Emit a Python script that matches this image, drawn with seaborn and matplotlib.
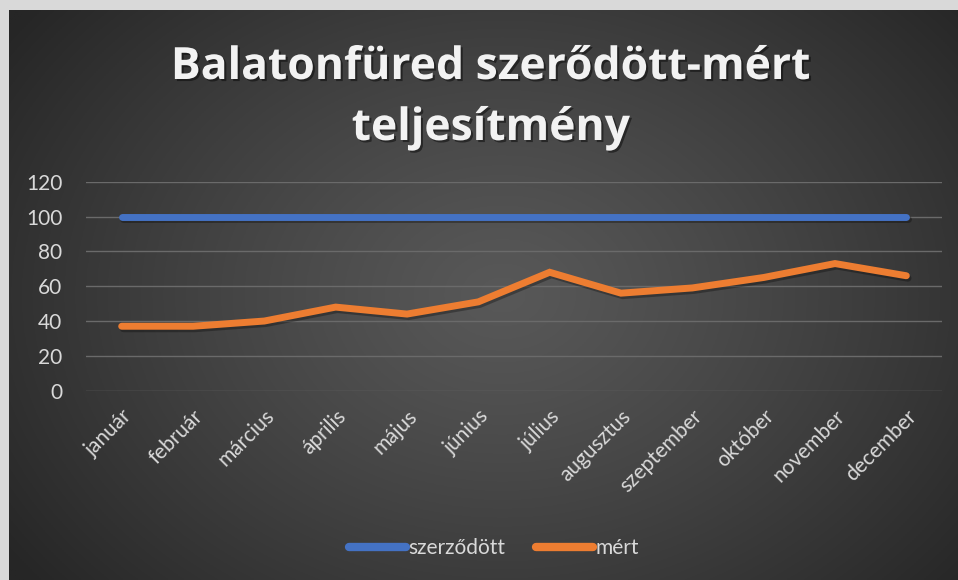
import numpy as np
import pandas as pd
import matplotlib
matplotlib.use("Agg")
import matplotlib.pyplot as plt
import matplotlib.patheffects as pe
from matplotlib.lines import Line2D
import seaborn as sns

months = ["január", "február", "március", "április", "május", "június",
          "július", "augusztus", "szeptember", "október", "november", "december"]
szerzodott = [100, 100, 100, 100, 100, 100, 100, 100, 100, 100, 100, 100]
mert = [37, 37, 40, 48, 44, 51, 68, 56, 59, 65, 73, 66]
series_names = ["szerződött", "mért"]
series_colors = ["#4472C4", "#ED7D31"]
y_ticks = [0, 20, 40, 60, 80, 100, 120]
title_lines = ["Balatonfüred szerődött-mért", "teljesítmény"]

df = pd.DataFrame({
    "idx": list(range(len(months))) * 2,
    "érték": szerzodott + mert,
    "sorozat": [series_names[0]] * len(months) + [series_names[1]] * len(months),
})

W, H = 958, 580
fig = plt.figure(figsize=(W / 100, H / 100), dpi=100, facecolor="#d9d9d9")

# dark radial-gradient chart background (frame strip on top/left)
bg = fig.add_axes([9 / W, 0, 1 - 9 / W, 1 - 10 / H])
bg.set_axis_off()
yy, xx = np.mgrid[0:1:300j, 0:1:500j]
r = np.sqrt(((xx - 0.52) / 0.75) ** 2 + ((yy - 0.5) / 0.95) ** 2)
r = np.clip(r / 0.85, 0, 1)
c0, c1 = 0x58 / 255, 0x26 / 255
img = c0 + (c1 - c0) * r ** 1.2
bg.imshow(np.dstack([img, img, img]), aspect="auto", extent=[0, 1, 0, 1], origin="lower")
bg.set_xlim(0, 1)
bg.set_ylim(0, 1)

ax = fig.add_axes([86 / W, 1 - 390.7 / H, (942 - 86) / W, (390.7 - 181.7) / H])
ax.patch.set_alpha(0)

sns.lineplot(data=df, x="idx", y="érték", hue="sorozat", palette=series_colors,
             hue_order=series_names, linewidth=5, ax=ax, legend=False, sort=False)
for ln in ax.get_lines():
    ln.set_solid_capstyle("round")
    ln.set_solid_joinstyle("miter")
    ln.set_path_effects([pe.SimpleLineShadow(offset=(1.2, -1.8), shadow_color="black", alpha=0.3),
                         pe.Normal()])

ax.set_xlim(-0.5, len(months) - 0.5)
ax.set_ylim(0, 120)
ax.set_yticks(y_ticks)
ax.set_xticks(range(len(months)))
ax.set_xticklabels(months, rotation=45, ha="right", rotation_mode="anchor")
ax.set_xlabel("")
ax.set_ylabel("")
for s in ax.spines.values():
    s.set_visible(False)
ax.grid(axis="y", color="#6a6a6a", linewidth=1.0)
ax.grid(axis="x", visible=False)
ax.set_axisbelow(True)
ax.tick_params(axis="y", length=0, pad=17, labelsize=15, labelcolor="#d9d9d9")
ax.tick_params(axis="x", length=0, pad=11, labelsize=15, labelcolor="#d9d9d9")
for lab in ax.get_xticklabels() + ax.get_yticklabels():
    lab.set_family("Lato")

# title
shadow = [pe.withSimplePatchShadow(offset=(1.5, -1.5), shadow_rgbFace="black", alpha=0.45)]
fig.text(491 / W, 1 - 79 / H, title_lines[0], ha="center", va="baseline", fontsize=32,
         fontweight="bold", family="Open Sans", color="#f2f2f2", path_effects=shadow)
fig.text(491 / W, 1 - 140 / H, title_lines[1], ha="center", va="baseline", fontsize=32,
         fontweight="bold", family="Open Sans", color="#f2f2f2", path_effects=shadow)

# legend
handles = [Line2D([0], [0], color=c, lw=6, solid_capstyle="round") for c in series_colors]
leg = fig.legend(handles, series_names, loc="center", bbox_to_anchor=(494 / W, 1 - 548 / H),
                 ncol=2, frameon=False, handlelength=2.7, handletextpad=0.12, columnspacing=1.5,
                 prop={"family": "Lato", "size": 15})
for t in leg.get_texts():
    t.set_color("#d9d9d9")

fig.savefig("out.png", dpi=100, facecolor=fig.get_facecolor())
